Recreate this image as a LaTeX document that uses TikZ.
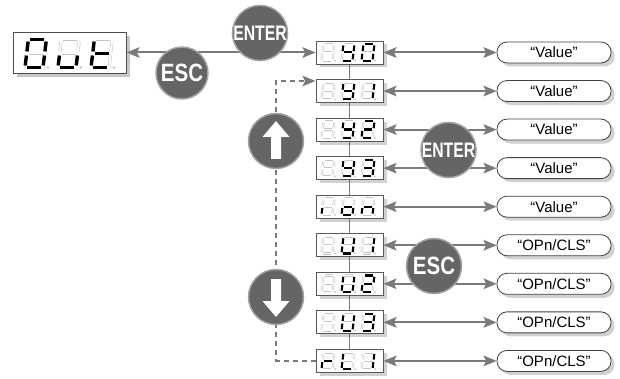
\documentclass[tikz,border=0pt]{standalone}
\usepackage{fontspec}
\setmainfont{Liberation Sans}
\usetikzlibrary{arrows.meta,shadows,backgrounds}
\definecolor{arr}{HTML}{7A7A7A}
\definecolor{btn}{HTML}{656565}
\definecolor{btnrim}{HTML}{A3A3A3}
\definecolor{segoff}{HTML}{C4C4C4}
\def\sgW{11}\def\sgH{16.5}\def\sgG{1.3}\def\sgSl{0.12}\def\sgDot{2.5}\def\sgR{1}
\def\sgLW{2.1pt}\def\sgDD{1pt}
\newcommand\sgdig[9]{%
\begin{scope}[shift={(#1,#2)},xslant=\sgSl]
\draw[sg#3] (\sgG,-\sgH)--(\sgW-\sgG,-\sgH);
\draw[sg#4] (\sgW,-\sgH+\sgG)--(\sgW,-\sgH/2-\sgG);
\draw[sg#5] (\sgW,-\sgH/2+\sgG)--(\sgW,-\sgG);
\draw[sg#6] (\sgG,0)--(\sgW-\sgG,0);
\draw[sg#7] (0,-\sgG)--(0,-\sgH/2+\sgG);
\draw[sg#8] (0,-\sgH/2-\sgG)--(0,-\sgH+\sgG);
\draw[sg#9] (\sgG,-\sgH/2)--(\sgW-\sgG,-\sgH/2);
\end{scope}
\fill[segoff] (#1+\sgW+\sgDot,#2) circle (\sgR);}
\tikzset{
 sg1/.style={draw=black,line width=\sgLW},
 sg0/.style={draw=segoff,line width=0.55pt,double=white,double distance=\sgDD},
 shad/.style={drop shadow={shadow xshift=3.5pt,shadow yshift=-3.5pt,opacity=0.18,fill=black}},
 disp/.style={draw=black!65,line width=0.9pt,fill=white,minimum width=67pt,minimum height=23pt,inner sep=0pt,shad},
 pill/.style={draw=black!75,line width=0.8pt,fill=white,rounded corners=10pt,minimum width=114pt,minimum height=21pt,inner sep=0pt,font=\fontsize{15}{15}\selectfont,shad},
 btn/.style={circle,fill=btn,draw=btnrim,line width=1.5pt,minimum size=54pt,inner sep=0pt,text=white,font=\bfseries},
 conn/.style={draw=arr,line width=2pt},
}
\newcommand\disprow[6]{%
\node[disp] (d#1) at (349.5,#2) {};
\node[pill] (v#1) at (554,#2) {#6};
\sgdig{321.5}{#2+8.2}#3
\sgdig{341.5}{#2+8.2}#4
\sgdig{361.5}{#2+8.2}#5
}
\begin{document}
\begin{tikzpicture}[x=1pt,y=-1pt,>={Stealth[length=13pt,width=10.5pt,inset=2.5pt]}]
\useasboundingbox (0,0) rectangle (620,379);
% Out display
\node[draw=black!70,line width=0.9pt,fill=white,minimum width=113pt,minimum height=41pt,inner sep=0pt,drop shadow={shadow xshift=4pt,shadow yshift=-4pt,opacity=0.22,fill=black}] (out) at (69.5,52.5) {};
\begingroup
\def\sgW{18}\def\sgH{28}\def\sgG{2}\def\sgSl{0.12}\def\sgDot{5}\def\sgR{1.3}\def\sgLW{3.4pt}\def\sgDD{2pt}
\sgdig{25}{67.5}1111110
\sgdig{58}{67.5}0011100
\sgdig{91}{67.5}0001111
\endgroup
% rows
\disprow{0}{52.5}{0000000}{0111011}{1111110}{“Value”}
\disprow{1}{91.05}{0000000}{0111011}{0110000}{“Value”}
\disprow{2}{129.6}{0000000}{0111011}{1101101}{“Value”}
\disprow{3}{168.15}{0000000}{0111011}{1111001}{“Value”}
\disprow{4}{206.7}{0000100}{0011101}{0010101}{“Value”}
\disprow{5}{245.25}{0000000}{0111110}{0110000}{“OPn/CLS”}
\disprow{6}{283.8}{0000000}{0111110}{1101101}{“OPn/CLS”}
\disprow{7}{322.35}{0000000}{0111110}{1111001}{“OPn/CLS”}
\disprow{8}{360.9}{0000101}{0001110}{0110000}{“OPn/CLS”}
\begin{scope}[on background layer]
\draw[draw=arr,line width=1.5pt] (d0) -- (d8);
\end{scope}
% connectors
\foreach \i in {0,...,8} \draw[conn,<->] (d\i.east) -- (v\i.west);
\draw[conn,<->] (out.east) -- (d0.west);
\coordinate (c1) at (276,81);
\coordinate (c8) at (276,360.9);
\draw[conn,dash pattern=on 5pt off 4pt,->] (d8.west) -- (c8) -- (c1) -- (d1.west |- c1);
% buttons
\node[btn,minimum size=54pt,font=\fontsize{21}{21}\selectfont\bfseries] (enter1) at (260,33) {\scalebox{0.75}[1]{ENTER}};
\node[btn,minimum size=52pt,font=\fontsize{25}{25}\selectfont\bfseries] (esc1) at (182,73) {\scalebox{0.82}[1]{ESC}};
\node[btn,minimum size=55pt,font=\fontsize{21}{21}\selectfont\bfseries] (enter2) at (448.5,150) {\scalebox{0.75}[1]{ENTER}};
\node[btn,minimum size=55pt,font=\fontsize{25}{25}\selectfont\bfseries] (esc2) at (434,266) {\scalebox{0.82}[1]{ESC}};
\node[btn,minimum size=55pt] (up) at (276,141) {};
\node[btn,minimum size=55pt] (down) at (276,297) {};
\fill[white,shift={(up.center)}] (-5,18) -- (-5,-4) -- (-13.5,-4) -- (0,-20) -- (13.5,-4) -- (5,-4) -- (5,18) -- cycle;
\fill[white,shift={(down.center)}] (-5,-18) -- (-5,4) -- (-13.5,4) -- (0,20) -- (13.5,4) -- (5,4) -- (5,-18) -- cycle;
\end{tikzpicture}
\end{document}
